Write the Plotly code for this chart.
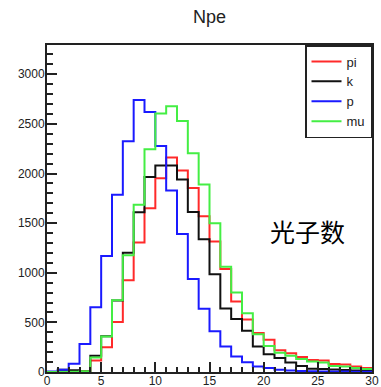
import plotly.graph_objects as go

# Npe distributions, one count per unit-wide bin from 0 to 30
bin_edges = list(range(0, 31))

pi_counts = [0, 3, 5, 10, 117, 250, 505, 925, 1305, 1650,
             1953, 2161, 2030, 1853, 1570, 1315, 1037, 710, 530, 392,
             324, 220, 190, 150, 120, 117, 80, 75, 56, 40]
k_counts = [0, 23, 17, 6, 164, 360, 720, 1202, 1610, 1965,
            2080, 2080, 1940, 1611, 1338, 985, 640, 534, 415, 258,
            178, 141, 95, 60, 32, 30, 25, 20, 15, 12]
p_counts = [5, 22, 84, 283, 653, 1170, 1785, 2325, 2740, 2620,
            2278, 1830, 1390, 936, 638, 410, 257, 157, 97, 56,
            40, 23, 15, 10, 8, 6, 5, 4, 3, 3]
mu_counts = [0, 0, 2, 8, 145, 358, 722, 1177, 1685, 2245,
             2605, 2678, 2530, 2205, 1890, 1500, 1060, 801, 592, 380,
             262, 195, 165, 130, 105, 95, 60, 55, 40, 30]

series = [
    ("pi", pi_counts, "#ff2a2a"),
    ("k", k_counts, "#111111"),
    ("p", p_counts, "#1a1aff"),
    ("mu", mu_counts, "#44ee44"),
]

x_ticks = [0, 5, 10, 15, 20, 25, 30]
y_ticks = [0, 500, 1000, 1500, 2000, 2500, 3000]

fig = go.Figure()
for name, counts, color in series:
    # step outline: each bin's level held until the next edge
    xs = bin_edges
    ys = counts + [counts[-1]]
    fig.add_trace(go.Scatter(
        x=xs, y=ys, mode="lines", name=name,
        line=dict(shape="hv", color=color, width=2),
    ))

axis_common = dict(
    showgrid=False, zeroline=False, automargin=False,
    showline=True, linecolor="#222", linewidth=2, mirror=True,
    ticks="inside", ticklen=10, tickwidth=1.5, tickcolor="#222",
    tickfont=dict(family="Liberation Sans", size=12, color="#222"),
)

fig.update_xaxes(
    range=[0, 30], tickvals=x_ticks, ticklabelstandoff=-3,
    minor=dict(ticks="inside", ticklen=5, dtick=1, tickcolor="#222", tickwidth=1.5),
    **axis_common,
)
fig.update_yaxes(
    range=[0, 3295], tickvals=y_ticks, ticklabelstandoff=-2,
    minor=dict(ticks="inside", ticklen=6, dtick=100, tickcolor="#222", tickwidth=1.5),
    **axis_common,
)

fig.add_annotation(
    text="光子数", xref="paper", yref="paper", x=0.803, y=0.432,
    xanchor="center", yanchor="middle", showarrow=False,
    font=dict(family="Noto Sans CJK SC", size=25, color="black"),
)

fig.update_layout(
    width=381, height=387,
    margin=dict(l=47, r=9, t=45, b=15),
    paper_bgcolor="white", plot_bgcolor="white",
    title=dict(text="Npe", x=0.55, xanchor="center", y=1 - 17 / 387,
               yanchor="middle", yref="container",
               font=dict(family="Liberation Sans", size=18, color="#222")),
    legend=dict(
        x=1, xanchor="right", y=1, yanchor="top",
        bgcolor="white", bordercolor="#222", borderwidth=1.5,
        font=dict(family="Liberation Sans", size=13, color="#222"),
        itemwidth=30, tracegroupgap=0,
        entrywidth=75, entrywidthmode="pixels",
    ),
    showlegend=True,
)

fig.write_html("out.html")
